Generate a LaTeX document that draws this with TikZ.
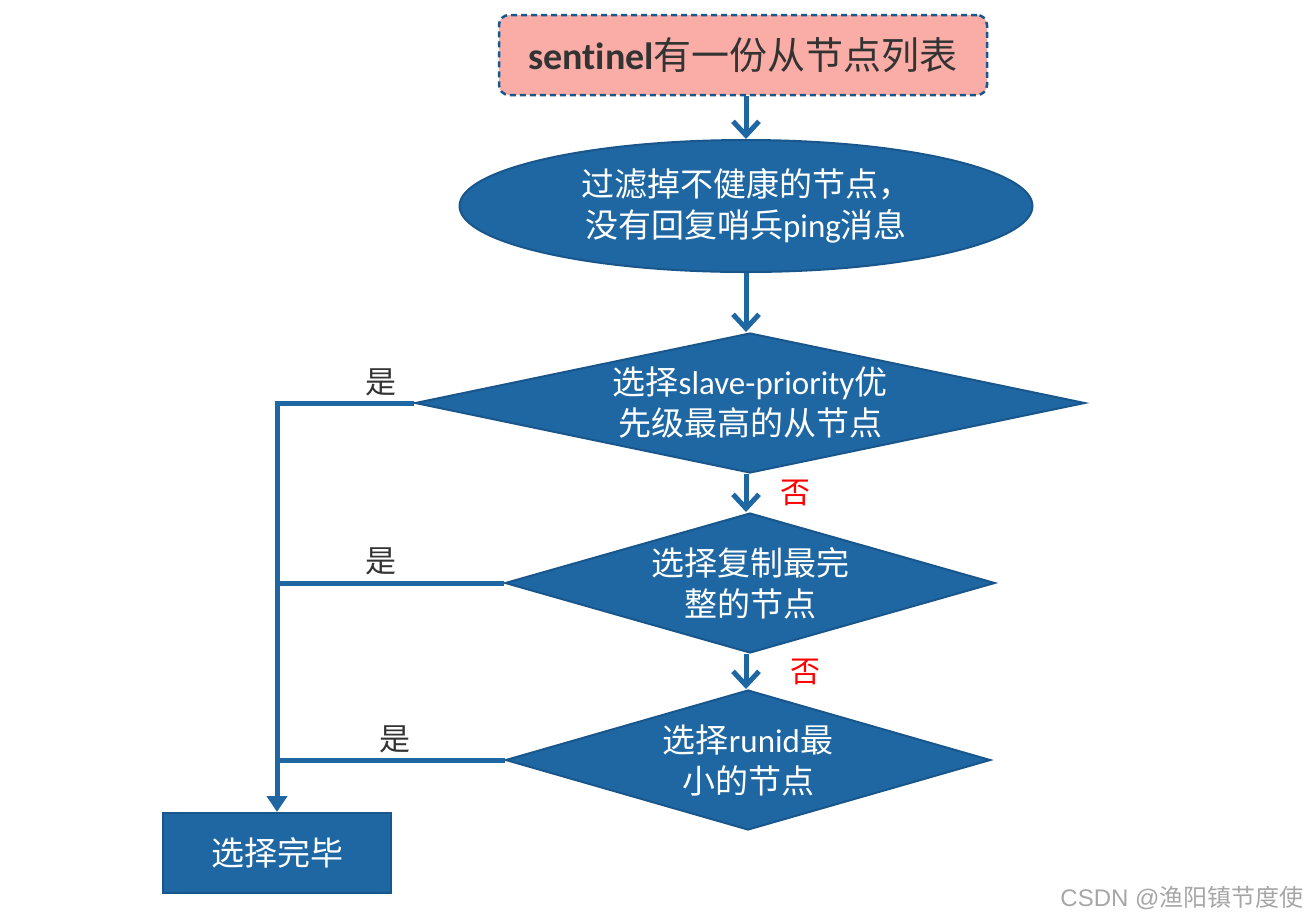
\documentclass[tikz,border=0pt]{standalone}
\usepackage{fontspec}
\setmainfont{Noto Sans CJK SC}
\newfontfamily\calib[Ligatures=NoCommon]{Carlito}
\newfontfamily\wmfont{Liberation Sans}
\usetikzlibrary{shapes.geometric,arrows.meta}
\definecolor{flowblue}{RGB}{31,103,163}
\definecolor{flowedge}{RGB}{24,86,140}
\definecolor{flowpink}{RGB}{249,173,166}
\newcommand\lat[1]{{\calib #1}}

\begin{document}
\begin{tikzpicture}[x=1pt, y=-1pt,
      blue shape/.style = {
        draw=flowedge,
        line width=2pt,
        fill=flowblue,
        text=white,
        inner sep=0pt,
        align=center,
        font=\fontsize{33}{41}\selectfont,
      },
      decision/.style = {
        blue shape,
        diamond,
      },
      arr/.style = {
        draw=flowblue,
        line width=5pt,
        -{Straight Barb[length=14pt,width=26pt,line width=5pt]},
      },
      link/.style = {
        draw=flowblue,
        line width=5pt,
      },
      yes/.style = {
        font=\fontsize{31}{34}\selectfont,
        text=black!80,
      },
      no/.style = {
        font=\fontsize{30}{33}\selectfont,
        text=red,
      },
    ]
      \useasboundingbox (0,0) rectangle (1313,922);
      \node[draw=flowedge, line width=2.5pt, dash pattern=on 6pt off 4pt,
            rounded corners=10pt, fill=flowpink, text=black!80,
            minimum width=488pt, minimum height=80pt,
            font=\fontsize{38}{42}\selectfont] (list) at (743,55)
            {\lat{\textbf{sentinel}}有一份从节点列表};
      \node[blue shape, ellipse, minimum width=573pt, minimum height=132pt] (filter) at (746,206)
            {过滤掉不健康的节点，\\没有回复哨兵\lat{ping}消息};
      \node[decision, shape aspect=4.79, minimum width=670pt, minimum height=140pt] (prio) at (750,403)
            {选择\lat{slave-priority}优\\先级最高的从节点};
      \node[decision, shape aspect=3.5, minimum width=490pt, minimum height=140pt] (offset) at (750,583)
            {选择复制最完\\整的节点};
      \node[decision, shape aspect=3.46, minimum width=485pt, minimum height=140pt] (runid) at (748,760)
            {选择\lat{runid}最\\小的节点};
      \node[blue shape, rectangle, minimum width=228pt, minimum height=80pt] (done) at (277,853)
            {选择完毕};

      \draw[arr] (list.south -| filter.north) -- (filter.north);
      \draw[arr] (filter.south) -- (filter.south |- prio.north);
      \draw[arr] (prio.south -| 746,0) -- (offset.north -| 746,0);
      \draw[arr] (offset.south -| 746,0) -- (runid.north -| 746,0);
      \node[no] (no1) at (795,493) {否};
      \node[no] (no2) at (805,672) {否};

      \draw[link, -{Triangle[length=16pt,width=20pt]}, line join=miter] (prio.west) -| (done.north);
      \draw[link] (offset.west) -- (offset.west -| done.north);
      \draw[link] (runid.west) -- (runid.west -| done.north);
      \node[yes] (yes1) at (381,382) {是};
      \node[yes] (yes2) at (381,561) {是};
      \node[yes] (yes3) at (395,739) {是};

      \node[text=black!35, anchor=east, font=\fontsize{24}{26}\selectfont] (mark) at (1307,898)
            {{\wmfont CSDN @}渔阳镇节度使};
    \end{tikzpicture}
\end{document}
